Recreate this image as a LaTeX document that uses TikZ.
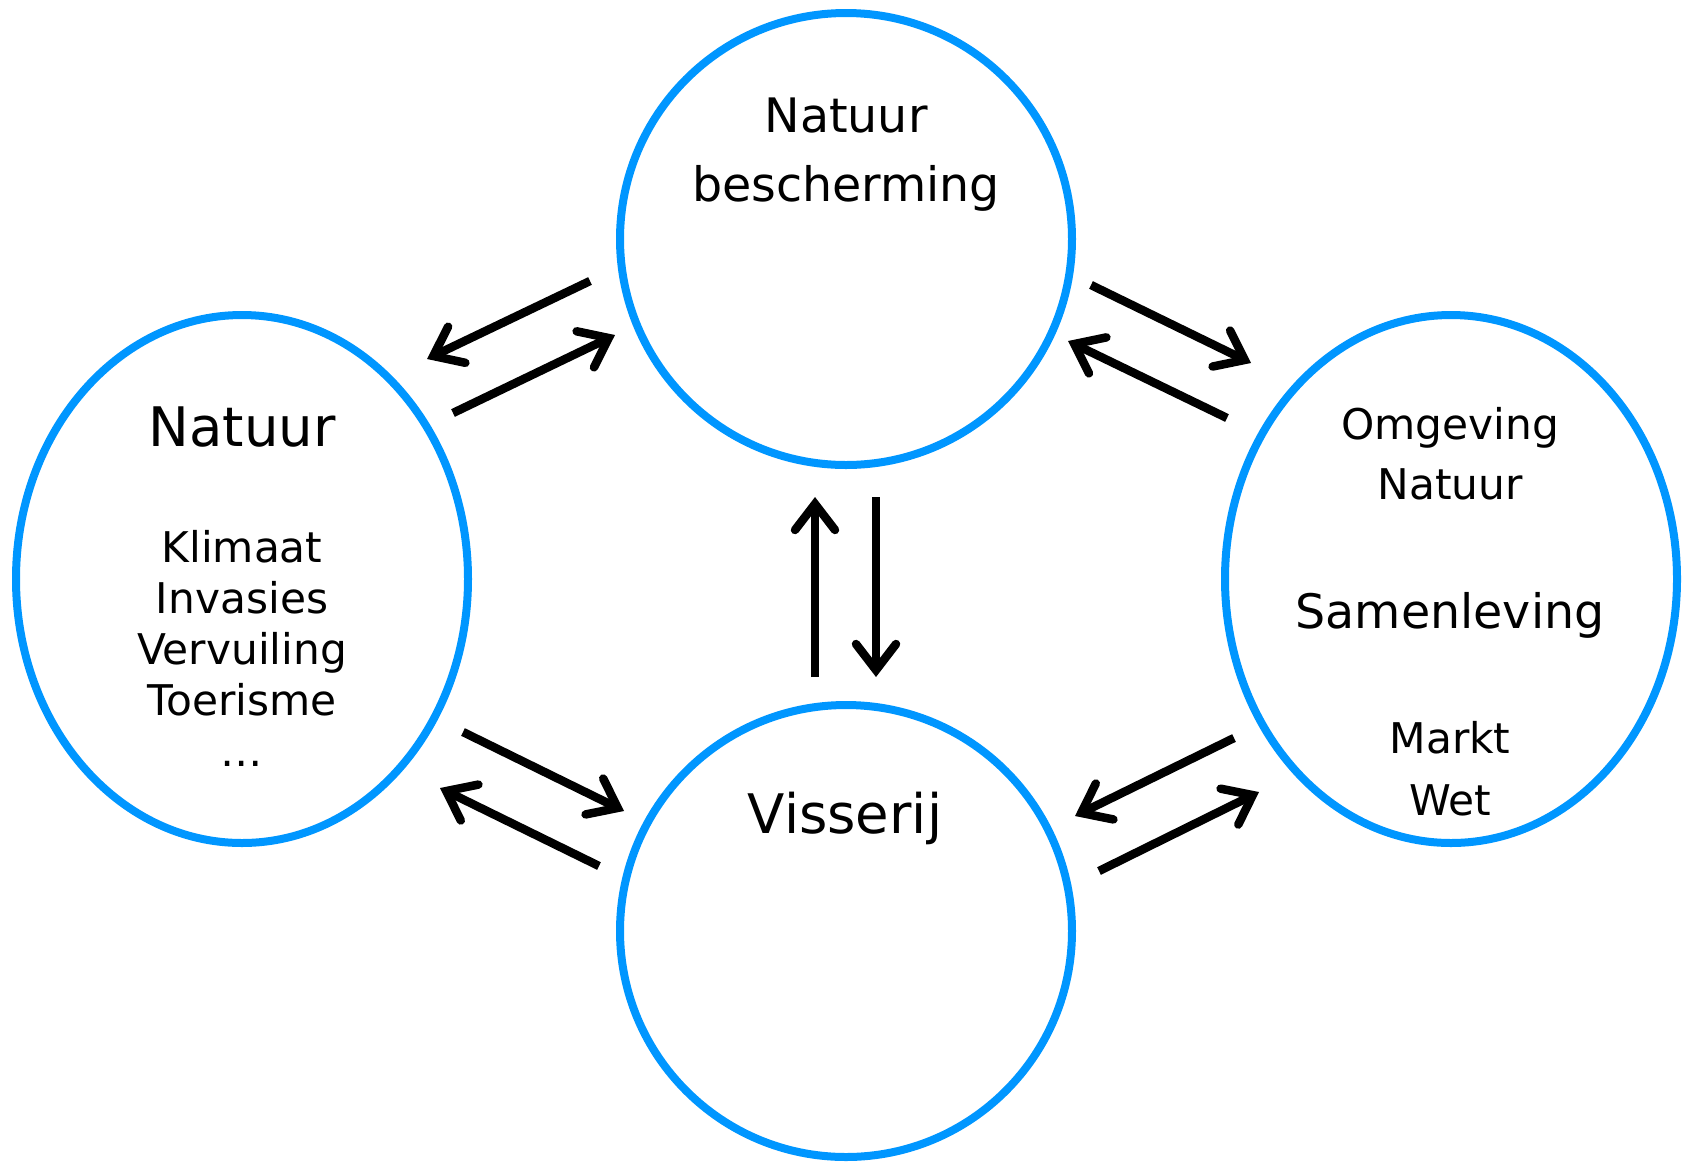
\documentclass[tikz,border=0pt]{standalone}
\usepackage{fontspec}
\setmainfont{DejaVu Sans}
\usetikzlibrary{shapes.geometric,arrows.meta}
\definecolor{ringblue}{RGB}{0,150,255}
\begin{document}
\begin{tikzpicture}[x=1pt,y=-1pt,
  ring/.style={draw=ringblue,line width=8pt,ellipse,inner sep=0pt,outer sep=0pt},
  lbl/.style={anchor=base,inner sep=0pt,text=black},
  big/.style={lbl,font=\fontsize{54.5}{62}\selectfont},
  mid/.style={lbl,font=\fontsize{47.5}{56}\selectfont},
  small/.style={lbl,font=\fontsize{42.3}{50}\selectfont},
  flow/.style={draw=black,line width=8.5pt,line cap=butt,
    -{Straight Barb[length=26pt,width=40pt,line cap=round,line join=miter]}}]
\useasboundingbox (0,0) rectangle (1686,1163);
% circles
\node[ring,minimum width=452pt,minimum height=452pt] (top) at (846,239) {};
\node[ring,minimum width=452pt,minimum height=452pt] (bot) at (846,931) {};
\node[ring,minimum width=452pt,minimum height=528pt] (lft) at (242,579) {};
\node[ring,minimum width=452pt,minimum height=528pt] (rgt) at (1451,579) {};
% texts
\node[mid] (t1) at (846,132) {Natuur};
\node[mid] (t2) at (846,201) {bescherming};
\node[big] (l0) at (242,446) {Natuur};
\node[small] (l1) at (242,562) {Klimaat};
\node[small] (l2) at (242,613) {Invasies};
\node[small] (l3) at (242,664) {Vervuiling};
\node[small] (l4) at (242,715) {Toerisme};
\node[small] (l5) at (242,766) {…};
\node[small] (r1) at (1450,439) {Omgeving};
\node[small] (r2) at (1450,499) {Natuur};
\node[mid] (r3) at (1450,628) {Samenleving};
\node[small] (r4) at (1450,753) {Markt};
\node[small] (r5) at (1450,815) {Wet};
\node[big] (b1) at (845,833) {Visserij};
% arrow end points
\coordinate (a1s) at (590,281); \coordinate (a1e) at (427,359);
\coordinate (a2s) at (453,413); \coordinate (a2e) at (615,335);
\coordinate (a3s) at (1091,285); \coordinate (a3e) at (1251,363);
\coordinate (a4s) at (1227,418); \coordinate (a4e) at (1068,341);
\coordinate (a5s) at (815,677); \coordinate (a5e) at (815,497);
\coordinate (a6s) at (876,497); \coordinate (a6e) at (876,677);
\coordinate (a7s) at (463,732); \coordinate (a7e) at (624,811);
\coordinate (a8s) at (599,866); \coordinate (a8e) at (440,788);
\coordinate (a9s) at (1234,738); \coordinate (a9e) at (1075,816);
\coordinate (a10s) at (1099,871); \coordinate (a10e) at (1259,792);
\draw[flow] (a1s) -- (a1e);
\draw[flow] (a2s) -- (a2e);
\draw[flow] (a3s) -- (a3e);
\draw[flow] (a4s) -- (a4e);
\draw[flow] (a5s) -- (a5e);
\draw[flow] (a6s) -- (a6e);
\draw[flow] (a7s) -- (a7e);
\draw[flow] (a8s) -- (a8e);
\draw[flow] (a9s) -- (a9e);
\draw[flow] (a10s) -- (a10e);
\end{tikzpicture}
\end{document}
